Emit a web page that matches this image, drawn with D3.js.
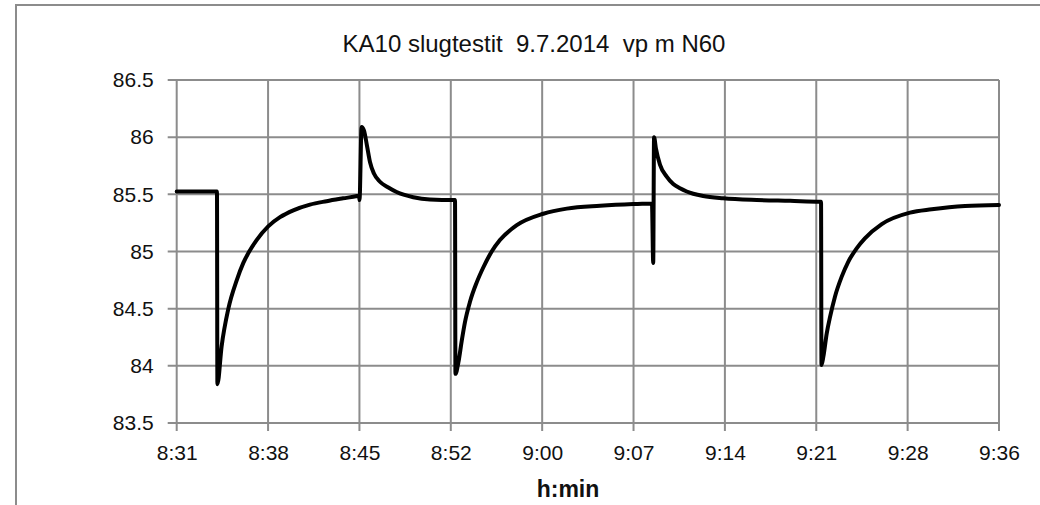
<!DOCTYPE html>
<html>
<head>
<meta charset="utf-8">
<script src="https://cdn.jsdelivr.net/npm/d3@7"></script>
<style>
  html, body { margin: 0; padding: 0; background: #ffffff; }
  svg { display: block; }
  text { font-family: "Liberation Sans", Arial, sans-serif; fill: #111111; }
</style>
</head>
<body>
<svg id="chart" width="1040" height="505"></svg>
<script>
// ---- data ----
const chartTitle = "KA10 slugtestit  9.7.2014  vp m N60";
const xAxisTitle = "h:min";

// clock times of the logger readings
const times = [
  "8:31:00","8:34:11","8:34:13","8:34:33","8:35:05","8:35:45","8:36:16","8:36:44","8:37:19",
  "8:38:14","8:39:10","8:40:13","8:41:32","8:42:51","8:44:09","8:45:15","8:45:25","8:45:27",
  "8:45:37","8:45:48","8:46:03","8:46:17","8:46:36","8:47:04","8:47:44","8:48:23","8:49:42",
  "8:51:01","8:52:55","8:53:00","8:53:02","8:53:16","8:53:32","8:53:47","8:54:11","8:54:43",
  "8:55:14","8:55:54","8:56:33","8:57:53","8:59:59","9:01:50","9:04:28","9:07:06","9:08:34",
  "9:08:40","9:08:44","9:08:53","9:09:12","9:09:44","9:10:15","9:10:47","9:11:19","9:11:50",
  "9:12:37","9:14:12","9:16:51","9:19:29","9:21:51","9:21:56","9:21:58","9:22:07","9:22:23",
  "9:22:39","9:23:02","9:23:34","9:24:05","9:24:45","9:25:24","9:26:44","9:28:58","9:30:41",
  "9:33:19","9:36:00"
];
// water level (m, N60)
const levels = [
  85.525,85.525,83.84,84.17,84.50,84.75,84.90,85.00,85.10,
  85.22,85.30,85.36,85.41,85.44,85.465,85.485,85.49,85.45,
  86.09,86.06,85.92,85.78,85.68,85.61,85.56,85.52,85.475,
  85.455,85.45,85.45,83.93,84.03,84.22,84.38,84.56,84.73,
  84.86,85.00,85.10,85.23,85.33,85.375,85.40,85.415,85.42,
  84.90,86.00,85.90,85.76,85.655,85.59,85.553,85.525,85.505,
  85.485,85.465,85.45,85.443,85.436,85.436,84.007,84.08,84.284,
  84.43,84.605,84.78,84.91,85.028,85.115,85.24,85.34,85.369,
  85.398,85.407
];

const xDomainTimes = ["8:31:00", "9:36:00"];
const xTickLabels = ["8:31","8:38","8:45","8:52","9:00","9:07","9:14","9:21","9:28","9:36"];
const yTicks = [83.5, 84, 84.5, 85, 85.5, 86, 86.5];
const yDomain = [83.5, 86.5];

// ---- drawing ----
(function () {
const parse = d3.timeParse("%H:%M:%S");
const data = times.map((t, i) => ({ t: parse(t), v: levels[i] }));

const svg = d3.select("#chart");
const pLeft = 176.7, pRight = 999, pTop = 80, pBottom = 423;

const x = d3.scaleTime().domain(xDomainTimes.map(parse)).range([pLeft, pRight]);
const y = d3.scaleLinear().domain(yDomain).range([pBottom, pTop]);

// outer frame of the chart object
svg.append("rect")
  .attr("x", 16).attr("y", 5).attr("width", 1040).attr("height", 520)
  .attr("fill", "#ffffff").attr("stroke", "#8c8c8c").attr("stroke-width", 2);

// title
svg.append("text")
  .attr("x", 534).attr("y", 52)
  .attr("text-anchor", "middle")
  .style("white-space", "pre")
  .style("font-size", "24px")
  .text(chartTitle);

// x tick positions: evenly spaced ticks over the domain
const [d0, d1] = x.domain();
const xTickDates = xTickLabels.map((_, i) =>
  new Date(+d0 + (d1 - d0) * i / (xTickLabels.length - 1)));

const gridColor = "#8c8c8c";

// horizontal gridlines
svg.append("g")
  .selectAll("line")
  .data(yTicks)
  .join("line")
  .attr("x1", pLeft - 9).attr("x2", pRight)
  .attr("y1", d => y(d)).attr("y2", d => y(d))
  .attr("stroke", gridColor).attr("stroke-width", 2);

// vertical gridlines
svg.append("g")
  .selectAll("line")
  .data(xTickDates)
  .join("line")
  .attr("x1", d => x(d)).attr("x2", d => x(d))
  .attr("y1", pTop).attr("y2", pBottom + 8)
  .attr("stroke", gridColor).attr("stroke-width", 2);

// y axis labels
const yAxis = d3.axisLeft(y).tickValues(yTicks).tickSize(0).tickPadding(23)
  .tickFormat(d3.format("~g"));
const gy = svg.append("g").attr("transform", `translate(${pLeft},0)`).call(yAxis);
gy.select(".domain").remove();
gy.selectAll("text").style("font-size", "21px")
  .style("font-family", "'Liberation Sans', Arial, sans-serif").attr("fill", "#111111");

// x axis labels
const xAxis = d3.axisBottom(x).tickValues(xTickDates).tickSize(0).tickPadding(22)
  .tickFormat((d, i) => xTickLabels[i]);
const gx = svg.append("g").attr("transform", `translate(0,${pBottom})`).call(xAxis);
gx.select(".domain").remove();
gx.selectAll("text").style("font-size", "21px")
  .style("font-family", "'Liberation Sans', Arial, sans-serif").attr("fill", "#111111");

// x axis title
svg.append("text")
  .attr("x", 568).attr("y", 497)
  .attr("text-anchor", "middle")
  .style("font-size", "23px").style("font-weight", "bold")
  .text(xAxisTitle);

// data line
const line = d3.line().x(d => x(d.t)).y(d => y(d.v)).curve(d3.curveMonotoneX);
svg.append("path")
  .datum(data)
  .attr("d", line)
  .attr("fill", "none")
  .attr("stroke", "#000000")
  .attr("stroke-width", 4)
  .attr("stroke-linejoin", "round")
  .attr("stroke-linecap", "round");
})();
</script>
</body>
</html>
